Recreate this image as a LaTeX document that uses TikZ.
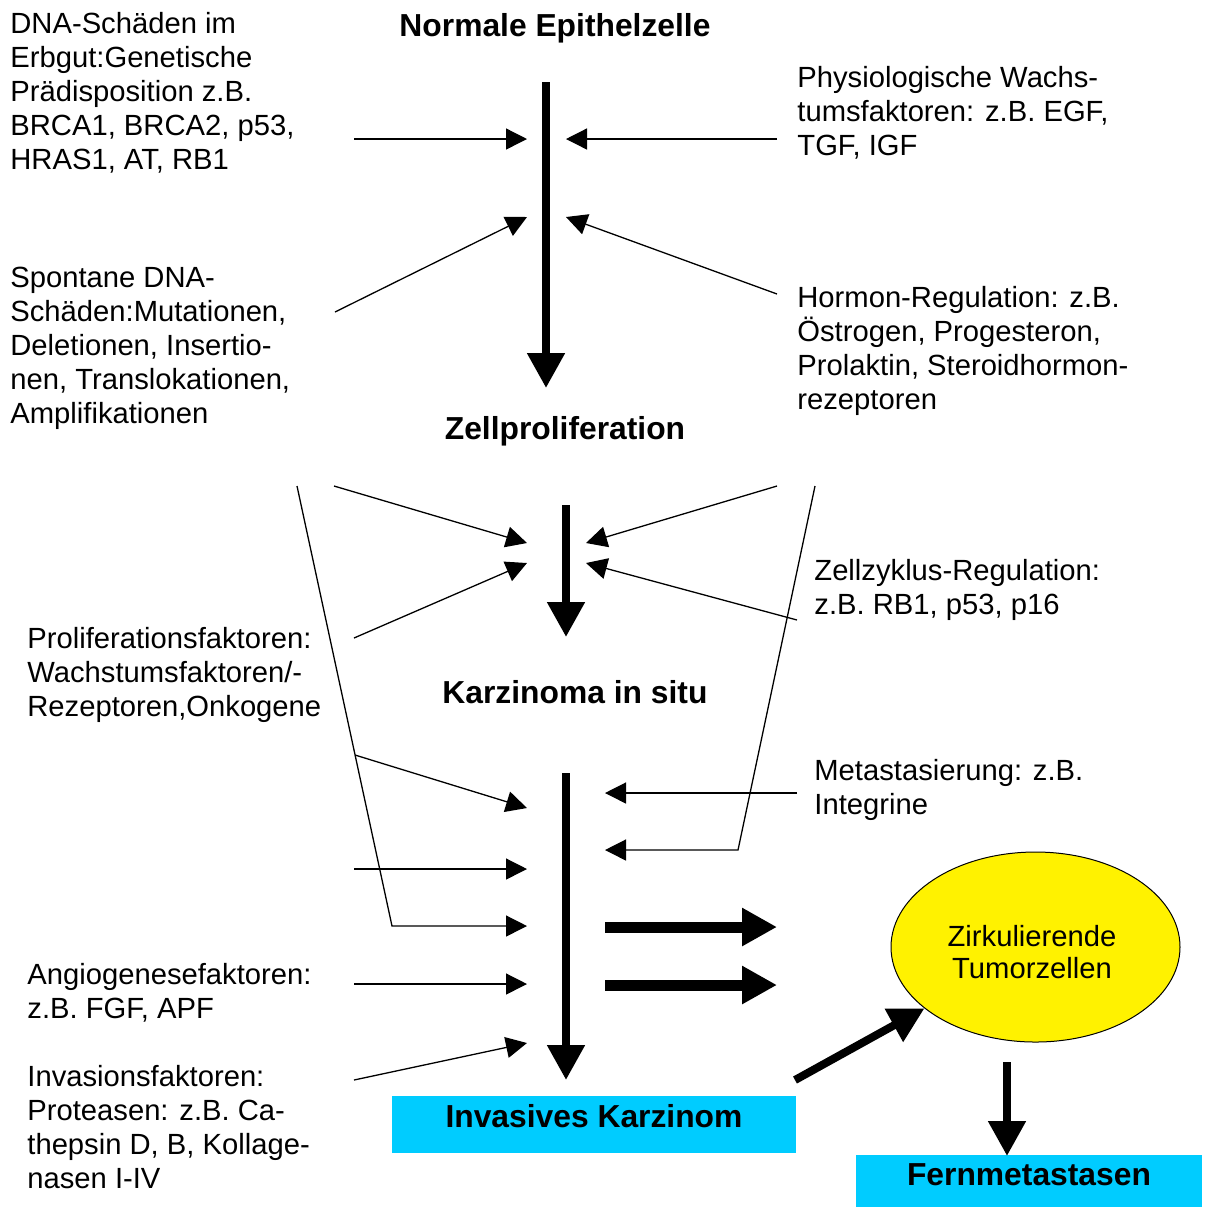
\documentclass[tikz,border=0pt]{standalone}
\usepackage{fontspec}
\setmainfont{Liberation Sans}[Ligatures=CommonOff]
\usetikzlibrary{arrows.meta,shapes.geometric}

\definecolor{boxcyan}{RGB}{0,204,255}

\tikzset{
  txt/.style={anchor=north west,inner sep=0pt,align=left,font=\fontsize{14.6}{17}\selectfont},
  title/.style={anchor=base,inner sep=0pt,font=\fontsize{15.9}{19}\selectfont\bfseries},
  feed/.style={line width=0.65pt,-{Triangle[length=10.5pt,width=10.5pt]}},
  mainflow/.style={line width=4pt,-{Triangle[length=17.5pt,width=18pt]}},
  spread/.style={line width=5.5pt,-{Triangle[length=17.5pt,width=18pt]}},
  stage/.style={fill=boxcyan,inner sep=0pt,font=\fontsize{15.9}{19}\selectfont\bfseries,text height=11.4pt}
}

\begin{document}
\begin{tikzpicture}[x=0.5pt,y=-0.5pt]
\useasboundingbox (0,0) rectangle (1209,1207);

% stages
\node[title] (epi) at (555,36) {Normale Epithelzelle};
\node[title] (prolif) at (565,439) {Zellproliferation};
\node[title] (insitu) at (575,703) {Karzinoma in situ};
\node[stage,minimum width=202pt,minimum height=28.5pt,text depth=8.9pt] (invasiv) at (594,1124.5) {Invasives Karzinom};
\node[stage,minimum width=173pt,minimum height=26pt,text depth=7.4pt] (fern) at (1029,1181) {Fernmetastasen};
\node[ellipse,draw,line width=0.5pt,fill=yellow,inner sep=0pt,minimum width=144.5pt,minimum height=95pt] (circ) at (1035.5,947) {};
\node[inner sep=0pt,align=center,font=\fontsize{14.6}{16}\selectfont] (circtxt) at (1032,952.5) {Zirkulierende\\Tumorzellen};

% factors, left
\node[txt] (erbgut) at (10,12) {DNA-Schäden im\\Erbgut:Genetische\\Prädisposition z.B.\\BRCA1, BRCA2, p53,\\HRAS1, AT, RB1};
\node[txt] (spontan) at (10,267) {Spontane DNA-\\Schäden:Mutationen,\\Deletionen, Insertio-\\nen, Translokationen,\\Amplifikationen};
\node[txt] (prolfak) at (27,627) {Proliferationsfaktoren:\\Wachstumsfaktoren/-\\Rezeptoren,Onkogene};
\node[txt] (angio) at (27,963) {Angiogenesefaktoren:\\z.B. FGF, APF};
\node[txt] (invfak) at (27,1065) {Invasionsfaktoren:\\Proteasen: z.B. Ca-\\thepsin D, B, Kollage-\\nasen I-IV};

% factors, right
\node[txt] (wachs) at (797,66) {Physiologische Wachs-\\tumsfaktoren: z.B. EGF,\\TGF, IGF};
\node[txt] (hormon) at (797,286) {Hormon-Regulation: z.B.\\Östrogen, Progesteron,\\Prolaktin, Steroidhormon-\\rezeptoren};
\node[txt] (zyklus) at (814,559) {Zellzyklus-Regulation:\\z.B. RB1, p53, p16};
\node[txt] (metast) at (814,759) {Metastasierung: z.B.\\Integrine};

% arrow ends
\coordinate (m1a) at (546,82);   \coordinate (m1b) at (546,388);
\coordinate (m2a) at (566,505);  \coordinate (m2b) at (566,637);
\coordinate (m3a) at (566,773);  \coordinate (m3b) at (566,1080);
\coordinate (e1) at (354,139);   \coordinate (e1t) at (527,139);
\coordinate (w1) at (777,139);   \coordinate (w1t) at (566,139);
\coordinate (s1) at (335,312);   \coordinate (s1t) at (527,217);
\coordinate (h1) at (777,294);   \coordinate (h1t) at (566,217);
\coordinate (fl1) at (297,486);  \coordinate (fl2) at (392,926);  \coordinate (fl3) at (527,926);
\coordinate (fr1) at (815,486);  \coordinate (fr2) at (738,850);  \coordinate (fr3) at (605,850);
\coordinate (p1) at (334,486);   \coordinate (p1t) at (527,543);
\coordinate (p2) at (354,638);   \coordinate (p2t) at (527,563);
\coordinate (z1) at (777,486);   \coordinate (z1t) at (586,543);
\coordinate (z2) at (797,620);   \coordinate (z2t) at (586,563);
\coordinate (br) at (355,755);   \coordinate (brt) at (527,808);
\coordinate (mt) at (797,793);   \coordinate (mtt) at (605,793);
\coordinate (q1) at (354,869);   \coordinate (q1t) at (527,869);
\coordinate (q2) at (354,984);   \coordinate (q2t) at (527,984);
\coordinate (q3) at (354,1080);  \coordinate (q3t) at (527,1043);
\coordinate (o1) at (605,927);   \coordinate (o1t) at (777,927);
\coordinate (o2) at (605,985);   \coordinate (o2t) at (777,985);
\coordinate (ca) at (795,1080);
\coordinate (fa) at (1007,1062); \coordinate (fat) at (1007,1156);

% main path
\draw[mainflow] (m1a) -- (m1b);
\draw[mainflow] (m2a) -- (m2b);
\draw[mainflow] (m3a) -- (m3b);

% inputs
\draw[feed] (e1) -- (e1t);
\draw[feed] (w1) -- (w1t);
\draw[feed] (s1) -- (s1t);
\draw[feed] (h1) -- (h1t);
\draw[feed] (p1) -- (p1t);
\draw[feed] (p2) -- (p2t);
\draw[feed] (z1) -- (z1t);
\draw[feed] (z2) -- (z2t);
\draw[feed] (fl1) -- (fl2) -- (fl3);
\draw[feed] (br) -- (brt);
\draw[feed] (fr1) -- (fr2) -- (fr3);
\draw[feed] (mt) -- (mtt);
\draw[feed] (q1) -- (q1t);
\draw[feed] (q2) -- (q2t);
\draw[feed] (q3) -- (q3t);

% spreading
\draw[spread] (o1) -- (o1t);
\draw[spread] (o2) -- (o2t);
\draw[mainflow] (ca) -- (circ);
\draw[mainflow] (fa) -- (fat);
\end{tikzpicture}
\end{document}
